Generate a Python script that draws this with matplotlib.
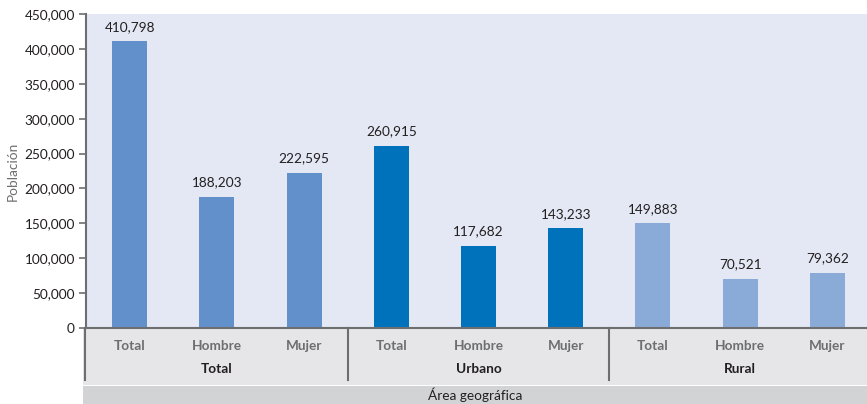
import matplotlib
matplotlib.use("Agg")
import matplotlib.pyplot as plt
from matplotlib.patches import Rectangle
from matplotlib.lines import Line2D
from matplotlib.ticker import FuncFormatter

groups = ["Total", "Urbano", "Rural"]
subcats = ["Total", "Hombre", "Mujer"]
values = [410798, 188203, 222595, 260915, 117682, 143233, 149883, 70521, 79362]
group_colors = ["#6190cb", "#0072bc", "#8aabd8"]
y_label = "Población"
x_title = "Área geográfica"

plt.rcParams['font.family'] = ['Lato', 'DejaVu Sans']

W, H = 867, 404
fig = plt.figure(figsize=(W/100, H/100), dpi=100)
L, R, T, B = 86, 871, 14, 328
ax = fig.add_axes([L/W, 1-B/H, (R-L)/W, (B-T)/H])
ax.set_facecolor("#e3e8f4")

n = len(values)
x = list(range(n))
colors = [group_colors[i // 3] for i in range(n)]
bars = ax.bar(x, values, width=0.4, color=colors, zorder=2)
for xi, v in zip(x, values):
    ax.annotate(f"{v:,}", (xi, v), xytext=(0, 6), textcoords="offset points",
                ha="center", va="bottom", fontsize=9.8, color="#231f20")

ax.set_xlim(-0.5, n-0.5)
ax.set_ylim(0, 450000)
ax.set_yticks(range(0, 450001, 50000))
ax.yaxis.set_major_formatter(FuncFormatter(lambda v, p: f"{int(v):,}"))
ax.tick_params(axis='y', length=5, width=1.2, color="#6d6e70", labelsize=9.8,
               labelcolor="#231f20", pad=3)
ax.set_xticks([])
for s in ["top", "right"]:
    ax.spines[s].set_visible(False)
for s in ["left", "bottom"]:
    ax.spines[s].set_color("#6d6e70")
    ax.spines[s].set_linewidth(1.5)

# category bands
fig.add_artist(Rectangle((83/W, 1-385/H), (W-83)/W, 57/H, transform=fig.transFigure,
                         facecolor="#e6e6e8", edgecolor="none", zorder=0))
fig.add_artist(Rectangle((83/W, 0), (W-83)/W, 18/H, transform=fig.transFigure,
                         facecolor="#d2d3d5", edgecolor="none", zorder=0))

slot = (R-L)/n
for i in range(n):
    cx = (L + slot*(i+0.5))/W
    fig.text(cx, 1-346/H, subcats[i % 3], ha="center", va="center",
             fontsize=9.8, color="#6d6e70", fontweight="bold")
for g in range(3):
    cx = (L + slot*(3*g+1.5))/W
    fig.text(cx, 1-369/H, groups[g], ha="center", va="center",
             fontsize=9.8, color="#231f20", fontweight="bold")
for xs in [L-1, L+slot*3, L+slot*6]:
    fig.add_artist(Line2D([xs/W, xs/W], [1-B/H, 1-380/H], transform=fig.transFigure,
                          color="#6d6e70", linewidth=1.5))
fig.text(475/W, 1-395/H, x_title, ha="center", va="center", fontsize=9.8, color="#231f20")
fig.text(13/W, 1-171/H, y_label, rotation=90, ha="center", va="center",
         fontsize=9.8, color="#6d6e70")

fig.savefig("out.png", dpi=100)
